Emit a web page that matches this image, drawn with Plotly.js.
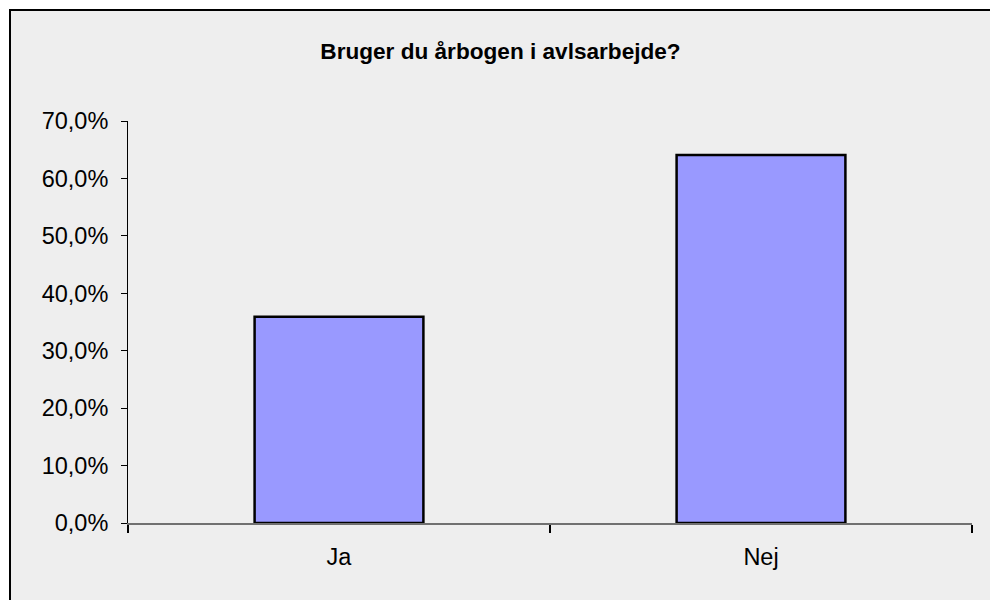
<!DOCTYPE html>
<html>
<head>
<meta charset="utf-8">
<script src="https://cdn.plot.ly/plotly-3.0.1.min.js"></script>
<style>
  body { margin: 0; background: #ffffff; }
  #frame { position: absolute; left: 9px; top: 9px; width: 981px; height: 591px;
           border-top: 2px solid #000; border-left: 2px solid #000; box-sizing: border-box;
           background: #eeeeee; overflow: hidden; }
  #chart { width: 979px; height: 589px; }
</style>
</head>
<body>
<div id="frame"><div id="chart"></div></div>
<script>
const categories = ['Ja', 'Nej'];
const shares = [0.359, 0.641];
const chartTitle = 'Bruger du årbogen i avlsarbejde?';

const FONT = '"Liberation Sans", Arial, sans-serif';

const trace = {
  type: 'bar',
  x: categories,
  y: shares,
  marker: { color: '#9999ff', line: { color: '#000000', width: 2.5 } },
  hoverinfo: 'skip'
};

const layout = {
  width: 979,
  height: 589,
  paper_bgcolor: '#eeeeee',
  plot_bgcolor: '#eeeeee',
  separators: ',.',
  margin: { l: 117, r: 18, t: 110, b: 77, pad: 0 },
  showlegend: false,
  bargap: 0.6,
  font: { family: FONT, size: 23.5, color: '#000000' },
  title: {
    text: chartTitle,
    font: { family: FONT, size: 22.6, color: '#000000', weight: 'bold' },
    x: 0.5, xref: 'container', xanchor: 'center',
    y: 1 - 40 / 589, yref: 'container', yanchor: 'middle'
  },
  xaxis: {
    type: 'category',
    showgrid: false,
    zeroline: false,
    showline: true,
    linecolor: '#707070',
    linewidth: 2,
    ticks: 'outside',
    tickson: 'boundaries',
    ticklen: 8,
    tickwidth: 1.5,
    tickcolor: '#000000',
    tickfont: { family: FONT, size: 23.5, color: '#000000' },
    ticklabelstandoff: 12
  },
  yaxis: {
    range: [0, 0.7],
    dtick: 0.1,
    tick0: 0,
    tickformat: '.1%',
    showgrid: false,
    zeroline: false,
    showline: true,
    linecolor: '#000000',
    linewidth: 1,
    ticks: 'outside',
    ticklen: 6,
    tickwidth: 1,
    tickcolor: '#000000',
    tickfont: { family: FONT, size: 23.5, color: '#000000' },
    ticklabelstandoff: 8
  }
};

Plotly.newPlot('chart', [trace], layout, { displayModeBar: false, staticPlot: true });
</script>
</body>
</html>
